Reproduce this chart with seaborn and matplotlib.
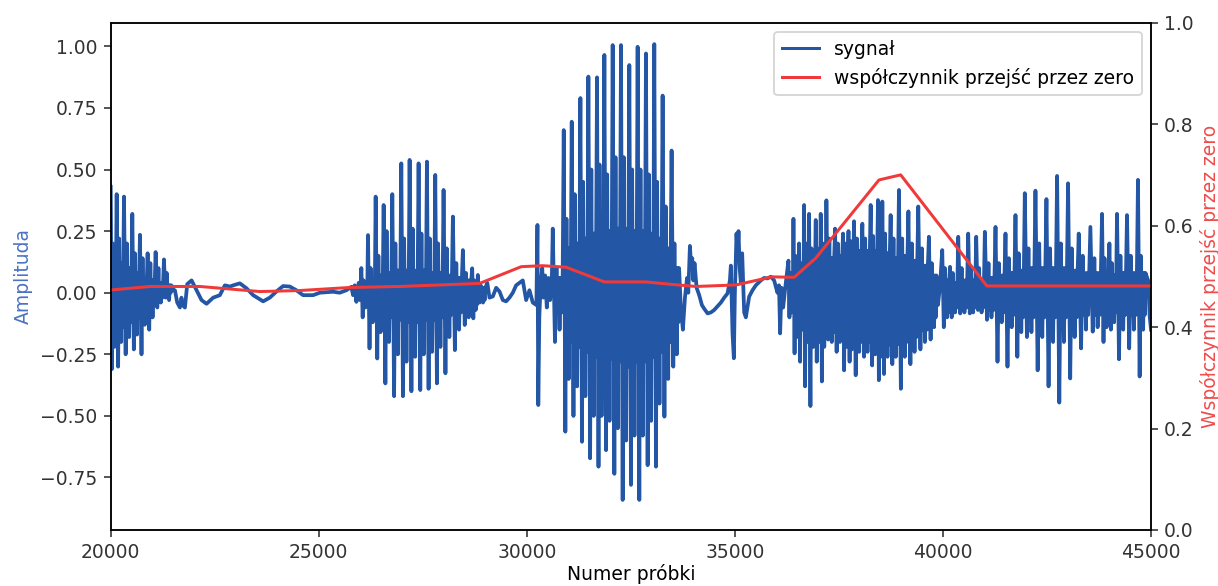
import matplotlib
matplotlib.use("Agg")
import matplotlib.pyplot as plt
import numpy as np
import pandas as pd
import seaborn as sns

# ---- signal: voiced stretches, one entry per pitch period ----
period_start = [
    20000, 20143, 20319, 20519, 20703, 20887, 21079, 21279,
    26023, 26183, 26367, 26559, 26767, 26983, 27183, 27399, 27599, 27799,
    27999, 28223, 28463, 28687, 28823,
    30623, 30887, 31079, 31287, 31479, 31687, 31863, 32063, 32263, 32463,
    32663, 32863, 33063, 33263, 33479,
    36287, 36407, 36543, 36663, 36783, 36943, 37063, 37199, 37407, 37599,
    37730, 37863, 38063, 38263, 38439, 38543, 38743, 38943, 39170, 39407, 39663,
    39983, 40170, 40367, 40607, 40799, 41007, 41263, 41503, 41743, 41967,
    42223, 42487, 42743, 43007, 43263, 43543, 43823, 44000, 44183, 44423, 44687,
]
peak_hi = [
    0.43, 0.40, 0.39, 0.32, 0.235, 0.16, 0.165, 0.135,
    0.10, 0.234, 0.39, 0.356, 0.40, 0.525, 0.539, 0.525, 0.532, 0.478,
    0.417, 0.309, 0.173, 0.099, 0.072,
    0.26, 0.66, 0.694, 0.79, 0.877, 0.874, 0.965, 1.005, 1.005, 0.924,
    0.998, 0.971, 1.009, 0.80, 0.577,
    0.13, 0.30, 0.20, 0.356, 0.32, 0.295, 0.32, 0.375, 0.26, 0.24,
    0.25, 0.29, 0.28, 0.356, 0.376, 0.37, 0.315, 0.417, 0.33, 0.35, 0.227,
    0.173, 0.105, 0.227, 0.24, 0.227, 0.247, 0.267, 0.24, 0.315, 0.404,
    0.414, 0.38, 0.474, 0.444, 0.24, 0.267, 0.32, 0.20, 0.32, 0.315, 0.458,
]
peak_lo = [
    -0.31, -0.30, -0.25, -0.23, -0.25, -0.15, -0.06, -0.02,
    -0.10, -0.226, -0.267, -0.368, -0.42, -0.42, -0.40, -0.395, -0.39, -0.368,
    -0.327, -0.233, -0.131, -0.104, -0.04,
    -0.20, -0.564, -0.50, -0.605, -0.672, -0.706, -0.639, -0.735, -0.841, -0.78,
    -0.841, -0.70, -0.706, -0.503, -0.30,
    -0.10, -0.246, -0.28, -0.38, -0.46, -0.28, -0.36, -0.19, -0.24, -0.315,
    -0.28, -0.335, -0.26, -0.295, -0.355, -0.33, -0.29, -0.39, -0.29, -0.23, -0.19,
    -0.14, -0.10, -0.084, -0.084, -0.07, -0.11, -0.28, -0.30, -0.26, -0.18,
    -0.315, -0.38, -0.446, -0.348, -0.226, -0.158, -0.20, -0.15, -0.27, -0.226, -0.34,
]
mid_hi = [
    0.20, 0.22, 0.20, 0.16, 0.14, 0.12, 0.10, 0.08,
    0.05, 0.10, 0.15, 0.25, 0.20, 0.22, 0.26, 0.24, 0.22, 0.20,
    0.18, 0.12, 0.08, 0.05, 0.03,
    0.10, 0.30, 0.40, 0.45, 0.50, 0.52, 0.48, 0.55, 0.55, 0.50,
    0.50, 0.48, 0.45, 0.35, 0.20,
    0.08, 0.15, 0.12, 0.20, 0.18, 0.18, 0.20, 0.22, 0.20, 0.20,
    0.21, 0.22, 0.22, 0.23, 0.24, 0.24, 0.22, 0.22, 0.20, 0.18, 0.12,
    0.10, 0.08, 0.10, 0.10, 0.10, 0.12, 0.12, 0.14, 0.16, 0.18,
    0.20, 0.18, 0.20, 0.18, 0.15, 0.14, 0.14, 0.12, 0.15, 0.15, 0.15,
]
mid_lo = [
    -0.22, -0.20, -0.18, -0.17, -0.13, -0.10, -0.04, -0.03,
    -0.06, -0.12, -0.16, -0.20, -0.25, -0.28, -0.26, -0.25, -0.24, -0.22,
    -0.18, -0.15, -0.10, -0.07, -0.04,
    -0.15, -0.35, -0.38, -0.42, -0.50, -0.50, -0.52, -0.55, -0.60, -0.58,
    -0.58, -0.52, -0.45, -0.35, -0.25,
    -0.08, -0.18, -0.15, -0.20, -0.22, -0.20, -0.22, -0.20, -0.20, -0.22,
    -0.23, -0.24, -0.24, -0.25, -0.26, -0.26, -0.26, -0.26, -0.24, -0.20, -0.14,
    -0.10, -0.08, -0.08, -0.08, -0.08, -0.10, -0.12, -0.14, -0.16, -0.16,
    -0.18, -0.20, -0.20, -0.18, -0.15, -0.14, -0.14, -0.12, -0.15, -0.15, -0.15,
]
core_hi = [
    0.12, 0.12, 0.10, 0.08, 0.06, 0.05, 0.04, 0.03,
    0.03, 0.05, 0.07, 0.08, 0.09, 0.09, 0.09, 0.09, 0.08, 0.08,
    0.07, 0.06, 0.05, 0.03, 0.02,
    0.06, 0.18, 0.20, 0.22, 0.24, 0.25, 0.25, 0.26, 0.26, 0.25,
    0.25, 0.24, 0.22, 0.18, 0.10,
    0.04, 0.08, 0.08, 0.10, 0.12, 0.12, 0.13, 0.14, 0.15, 0.16,
    0.16, 0.17, 0.17, 0.17, 0.17, 0.16, 0.14, 0.15, 0.13, 0.11, 0.07,
    0.05, 0.04, 0.05, 0.05, 0.05, 0.06, 0.07, 0.08, 0.09, 0.10,
    0.10, 0.10, 0.10, 0.09, 0.08, 0.08, 0.08, 0.07, 0.08, 0.08, 0.08,
]
core_lo = [
    -0.12, -0.14, -0.12, -0.10, -0.08, -0.05, -0.02, 0.00,
    -0.03, -0.06, -0.09, -0.10, -0.11, -0.12, -0.12, -0.11, -0.11, -0.10,
    -0.09, -0.08, -0.06, -0.05, -0.03,
    -0.08, -0.20, -0.22, -0.24, -0.26, -0.27, -0.27, -0.28, -0.30, -0.28,
    -0.28, -0.26, -0.24, -0.20, -0.12,
    -0.05, -0.10, -0.10, -0.14, -0.15, -0.15, -0.16, -0.16, -0.18, -0.19,
    -0.20, -0.20, -0.20, -0.21, -0.21, -0.21, -0.21, -0.20, -0.18, -0.15, -0.10,
    -0.08, -0.06, -0.06, -0.06, -0.06, -0.07, -0.08, -0.09, -0.10, -0.10,
    -0.10, -0.10, -0.10, -0.10, -0.09, -0.09, -0.09, -0.08, -0.09, -0.09, -0.09,
]

# ---- signal: quiet and transitional stretches (sample, amplitude) ----
quiet_sample = [
    21500, 21543, 21599, 21663, 21700, 21727, 21783, 21839, 21943, 22063,
    22183, 22303, 22463, 22623, 22743, 22863, 22943, 23103, 23263, 23423,
    23663, 23823, 23983, 24143, 24303, 24463, 24623, 24863, 25023, 25343,
    25503, 25663, 25783, 25823, 25863, 25903, 25960, 25990,
    29050, 29103, 29183, 29263, 29343, 29423, 29503, 29583, 29663, 29743,
    29823, 29903, 29983, 30063, 30143, 30230, 30255, 30275, 30300, 30330,
    30370, 30400, 30440, 30480, 30520, 30560, 30600,
    33700, 33750, 33800, 33850, 33880, 33919, 33950, 33975, 34000, 34030,
    34080, 34143, 34207, 34263, 34343, 34423, 34503, 34583, 34663, 34743,
    34823, 34880, 34903, 34943, 34975, 35000, 35039, 35063, 35087, 35115,
    35143, 35175, 35223, 35263, 35343, 35423, 35503, 35623, 35703, 35783,
    35863, 35943, 36023, 36060, 36087, 36120, 36160, 36223,
    39880, 39930,
    44930, 44970, 45000,
]
quiet_amp = [
    0.01, 0.01, -0.04, -0.06, -0.02, -0.05, -0.06, 0.035, 0.05, 0.01,
    -0.03, -0.045, -0.02, -0.01, 0.03, 0.025, 0.03, 0.038, 0.018, -0.01,
    -0.035, -0.02, 0.005, 0.027, 0.025, 0.01, -0.01, -0.01, 0.0, 0.004,
    0.0, 0.01, 0.024, -0.01, 0.03, -0.037, 0.04, -0.03,
    0.04, -0.02, -0.015, 0.02, 0.005, -0.03, -0.035, -0.02, 0.0, 0.03,
    0.04, 0.05, -0.03, 0.01, -0.04, -0.05, 0.275, -0.456, -0.10, 0.03,
    0.10, -0.02, 0.07, -0.06, 0.06, -0.03, 0.05,
    -0.06, -0.15, -0.02, 0.06, 0.0, 0.19, 0.10, 0.14, 0.05, 0.12,
    0.02, -0.01, -0.05, -0.065, -0.084, -0.08, -0.07, -0.055, -0.04, -0.02,
    -0.003, 0.05, 0.11, -0.165, -0.266, 0.0, 0.24, 0.15, 0.25, 0.10,
    0.04, 0.16, -0.08, -0.10, -0.016, 0.01, 0.03, 0.05, 0.06, 0.058,
    0.065, 0.05, 0.0, 0.03, -0.165, 0.02, -0.06, 0.04,
    -0.05, 0.03,
    0.05, -0.10, -0.15,
]

# ---- zero-crossing rate per analysis frame ----
zcr_sample = [20000, 20943, 22143, 23583, 24543, 25743, 26943, 28863, 29864,
              30375, 30944, 31863, 32864, 33495, 34064, 35024, 35895, 36423,
              36944, 38463, 38984, 41055, 45000]
zcr_value = [0.473, 0.480, 0.480, 0.470, 0.472, 0.478, 0.480, 0.486, 0.519,
             0.521, 0.518, 0.489, 0.489, 0.484, 0.480, 0.483, 0.499, 0.498,
             0.536, 0.690, 0.700, 0.481, 0.481]

# build the waveform vertices: inside each pitch period the trace swings
# peak -> trough -> secondary peak -> core oscillation
phase = [0.0, 0.20, 0.34, 0.44, 0.53, 0.62, 0.72, 0.81, 0.90]
xs, ys = list(quiet_sample), list(quiet_amp)
for i, t in enumerate(period_start):
    gap = period_start[i + 1] - t if i + 1 < len(period_start) else 200
    span = gap if gap <= 300 else 200
    vals = [peak_hi[i], peak_lo[i], mid_hi[i], core_lo[i], core_hi[i],
            mid_lo[i], core_hi[i], core_lo[i], core_hi[i]]
    for f, v in zip(phase, vals):
        xs.append(t + f * span)
        ys.append(v)
signal = pd.DataFrame({"probka": xs, "amplituda": ys}).sort_values("probka")
zcr = pd.DataFrame({"probka": zcr_sample, "zcr": zcr_value})

blue = "#2456a6"
red = "#f03a3a"

fig = plt.figure(figsize=(1218 / 135, 586 / 135), dpi=135)
ax1 = fig.add_axes([0.0909, 0.0956, 0.8541, 0.8657])
ax2 = ax1.twinx()

sns.lineplot(data=signal, x="probka", y="amplituda", ax=ax1, color=blue,
             linewidth=2.0, sort=False, estimator=None, label="sygnał")
sns.lineplot(data=zcr, x="probka", y="zcr", ax=ax2, color=red,
             linewidth=1.6, sort=False, estimator=None,
             label="współczynnik przejść przez zero")

ax1.set_xlim(20000, 45000)
ax1.set_ylim(-0.963, 1.096)
ax2.set_ylim(0, 1)
ax1.set_yticks([-0.75, -0.5, -0.25, 0, 0.25, 0.5, 0.75, 1.0])
ax1.yaxis.set_major_formatter(
    matplotlib.ticker.FuncFormatter(lambda v, _: f"{v:.2f}".replace("-", "\u2212"))
)
ax2.set_yticks([0, 0.2, 0.4, 0.6, 0.8, 1.0])

ax1.set_xlabel("Numer próbki", fontsize=10, labelpad=1)
ax1.set_ylabel("Amplituda", color="#4a72c4", fontsize=10, labelpad=4)
ax2.set_ylabel("Współczynnik przejść przez zero", color="#f04b4b",
               fontsize=10, labelpad=3)
for ax in (ax1, ax2):
    ax.tick_params(labelsize=10, colors="#222222", labelcolor="#333333")

h1, l1 = ax1.get_legend_handles_labels()
h2, l2 = ax2.get_legend_handles_labels()
if ax1.get_legend() is not None:
    ax1.get_legend().remove()
leg = ax2.legend(h1 + h2, l1 + l2, loc="upper right", fontsize=10)
for line in leg.get_lines():
    line.set_linewidth(1.6)

fig.savefig("out.png", dpi=135)
